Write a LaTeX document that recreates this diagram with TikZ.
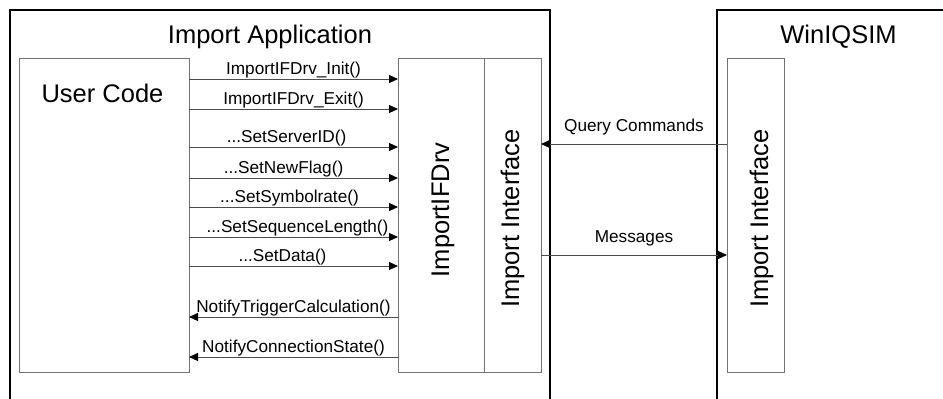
\documentclass[tikz,border=0pt]{standalone}
\usepackage{fontspec}
\setmainfont{Liberation Sans}
\usetikzlibrary{arrows.meta,positioning,calc}

\begin{document}
\begin{tikzpicture}[
    x=1pt, y=-1pt,
    bigtext/.style={font=\fontsize{25.5}{30}\selectfont, inner sep=0pt},
    calltext/.style={font=\fontsize{17.2}{20}\selectfont, inner sep=0.5pt},
    frame/.style={
        draw=black,
        line width=2pt,
        outer sep=0pt,
        minimum width=#1,
        minimum height=430pt,
        anchor=north west
    },
    box/.style={
        draw=black!55,
        line width=1pt,
        outer sep=0pt,
        minimum width=#1,
        minimum height=314pt,
        anchor=north west
    },
    flow/.style={-{Triangle[length=9pt,width=8pt,color=black]}, draw=black!70, line width=1pt}
]
\clip (0,0) rectangle (943,399);

%-----------------------------------
% Import Application
%-----------------------------------
\node[frame=540pt, label={[bigtext, anchor=base, xshift=-10pt, yshift=-33pt]north:Import Application}] (app) at (10,10) {};

\node[box=170pt, label={[bigtext, anchor=base, xshift=-1.5pt, yshift=-44pt]north:User Code}] (user) at (19,58) {};

\node[box=86pt] (drv) at (398,58) {};
\node[bigtext, rotate=90] (drvname) at ([xshift=2pt, yshift=5pt]drv.center) {ImportIFDrv};

\node[box=57pt] (aif) at (484,58) {};
\node[bigtext, rotate=90] (aifname) at ([yshift=-3.5pt]aif.center) {Import Interface};

%-----------------------------------
% WinIQSIM
%-----------------------------------
\node[frame=243pt, label={[bigtext, anchor=base, yshift=-33pt]north:WinIQSIM}] (win) at (717,10) {};

\node[box=57pt] (wif) at (727,58) {};
\node[bigtext, rotate=90] (wifname) at ([xshift=6pt, yshift=-3.5pt]wif.center) {Import Interface};

%-----------------------------------
% Calls into the driver
%-----------------------------------
\draw[flow] (user.east |- 0,79)  -- (drv.west |- 0,79)  node[calltext, midway, above] {ImportIFDrv\_Init()};
\draw[flow] (user.east |- 0,109) -- (drv.west |- 0,109) node[calltext, midway, above] {ImportIFDrv\_Exit()};
\draw[flow] (user.east |- 0,147) -- (drv.west |- 0,147) node[calltext, midway, above, xshift=-7pt] {...SetServerID()};
\draw[flow] (user.east |- 0,178) -- (drv.west |- 0,178) node[calltext, midway, above, xshift=-10pt] {...SetNewFlag()};
\draw[flow] (user.east |- 0,207) -- (drv.west |- 0,207) node[calltext, midway, above, xshift=-4pt] {...SetSymbolrate()};
\draw[flow] (user.east |- 0,237) -- (drv.west |- 0,237) node[calltext, midway, above, xshift=4pt] {...SetSequenceLength()};
\draw[flow] (user.east |- 0,266) -- (drv.west |- 0,266) node[calltext, midway, above, xshift=-11pt] {...SetData()};

%-----------------------------------
% Callbacks
%-----------------------------------
\draw[flow] (drv.west |- 0,317) -- (user.east |- 0,317) node[calltext, midway, above] {NotifyTriggerCalculation()};
\draw[flow] (drv.west |- 0,357) -- (user.east |- 0,357) node[calltext, midway, above] {NotifyConnectionState()};

%-----------------------------------
% Between the applications
%-----------------------------------
\draw[flow] (wif.west |- 0,144) -- (aif.east |- 0,144) node[calltext, midway, above=8pt] {Query Commands};
\draw[flow] (aif.east |- 0,255) -- (wif.west |- 0,255) node[calltext, midway, above=8pt] {Messages};

\end{tikzpicture}
\end{document}
